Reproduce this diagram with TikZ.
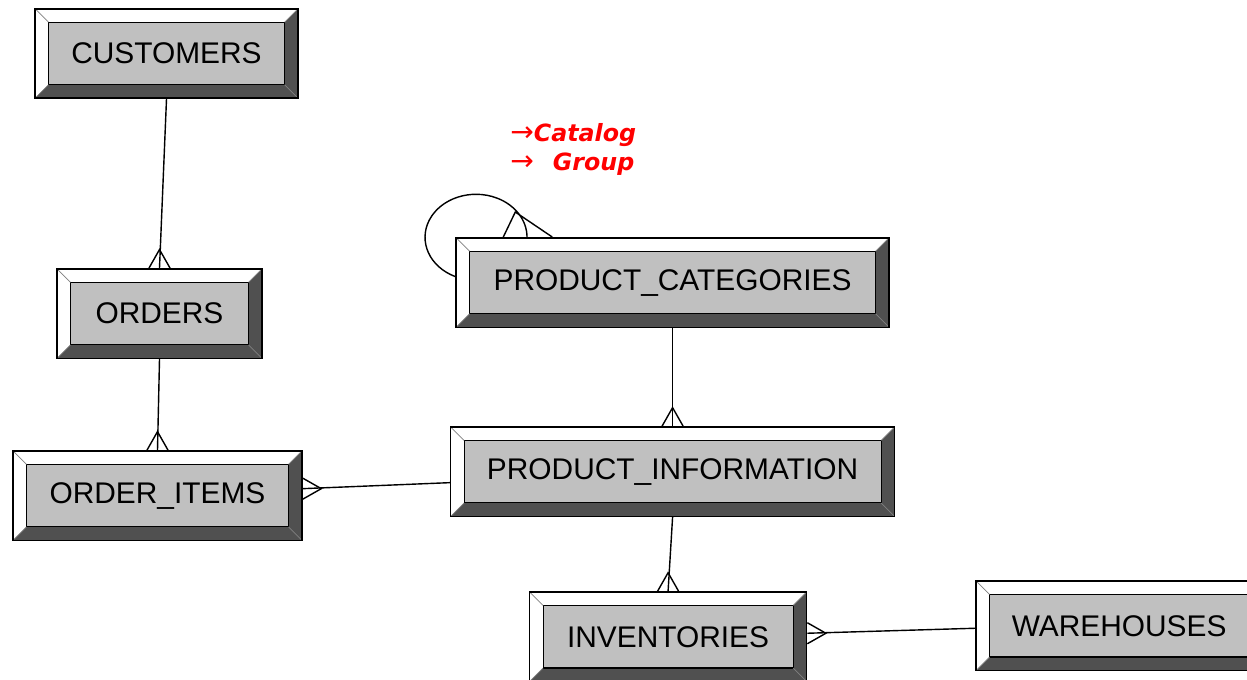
\documentclass[tikz,border=0pt]{standalone}
\usepackage{fontspec}
\setmainfont{Liberation Sans}
\newfontfamily\notefont{DejaVu Sans}
\usepackage{xcolor}
\usetikzlibrary{positioning, calc}

\definecolor{bevface}{HTML}{C0C0C0}
\definecolor{bevdark}{HTML}{505050}
\definecolor{notered}{HTML}{FF0000}
\def\bev{0.27cm}
\newcommand{\notearrow}{{\upshape\mdseries\fontsize{16}{16.5}\selectfont →}}

\begin{document}
\begin{tikzpicture}[
        entity/.style={rectangle, draw=black, line width=0.9pt, fill=white, inner sep=0pt,
                minimum height=1.79cm, font=\fontsize{17}{20}\selectfont,
                path picture={
                        \fill[bevdark] (path picture bounding box.south west) -- (path picture bounding box.south east)
                            -- (path picture bounding box.north east) -- ([shift={(-\bev,-\bev)}]path picture bounding box.north east)
                            -- ([shift={(-\bev,\bev)}]path picture bounding box.south east)
                            -- ([shift={(\bev,\bev)}]path picture bounding box.south west) -- cycle;
                        \filldraw[fill=bevface, draw=black, line width=0.6pt]
                            ([shift={(\bev,\bev)}]path picture bounding box.south west) rectangle
                            ([shift={(-\bev,-\bev)}]path picture bounding box.north east);
                        \draw[gray, line width=0.4pt]
                            (path picture bounding box.north west) -- ++(\bev,-\bev)
                            (path picture bounding box.north east) -- ++(-\bev,-\bev)
                            (path picture bounding box.south west) -- ++(\bev,\bev)
                            (path picture bounding box.south east) -- ++(-\bev,\bev);
                    }},
        link/.style={-, line width=0.8pt, black},
        crowfoot/.pic={\draw[link] (-0.21cm,0) -- (0,0.37cm) -- (0.21cm,0);},
        note/.style={font=\notefont\bfseries\itshape\fontsize{13.5}{16.5}\selectfont, text=notered,
                align=left, inner sep=0pt}, ]

        \useasboundingbox (0,0) rectangle (24.94,-13.6);
        \clip (0,0) rectangle (24.94,-13.6);

        % === ORDER SIDE ===
        \node[entity, minimum width=5.26cm] (cust) at (3.33,-1.07) {CUSTOMERS};
        \node[entity, minimum width=4.1cm, below=3.38cm of cust, xshift=-0.14cm] (orders) {ORDERS};
        \node[entity, minimum width=5.78cm, below=1.82cm of orders, xshift=-0.04cm] (oitems) {ORDER\_ITEMS};

        % === PRODUCT SIDE ===
        \node[entity, minimum width=8.88cm, right=2.94cm of oitems, yshift=0.48cm] (pinfo) {PRODUCT\_INFORMATION};
        \node[entity, minimum width=8.66cm, above=1.96cm of pinfo] (pcat) {PRODUCT\_CATEGORIES};
        \node[entity, minimum width=5.54cm, below=1.48cm of pinfo, xshift=-0.09cm] (inv) {INVENTORIES};
        \node[entity, minimum width=5.72cm, right=3.36cm of inv, yshift=0.22cm] (ware) {WAREHOUSES};

        % note
        \node[note, anchor=north west] (grpnote) at (10.2,-2.47)
            {\notearrow Catalog\\\notearrow\hspace{0.38cm}Group};

        % === RELATIONSHIPS ===
        \draw[link] (cust.south) -- (orders.north);
        \pic at (orders.north) {crowfoot};

        \draw[link] (orders.south) -- (oitems.north);
        \pic at (oitems.north) {crowfoot};

        \draw[link] ([yshift=-0.22cm]pinfo.west) -- ([yshift=0.14cm]oitems.east);
        \pic[rotate=-90] at ([yshift=0.14cm]oitems.east) {crowfoot};

        \draw[link] (pcat.south) -- (pinfo.north);
        \pic at (pinfo.north) {crowfoot};

        \draw[link] (pinfo.south) -- (inv.north);
        \pic at (inv.north) {crowfoot};

        \draw[link] ([yshift=-0.05cm]ware.west) -- ([yshift=0.07cm]inv.east);
        \pic[rotate=-90] at ([yshift=0.07cm]inv.east) {crowfoot};

        % self loop on categories
        \draw[link] ([yshift=0.12cm]pcat.west) arc[start angle=246, end angle=0, x radius=1.02cm, y radius=0.86cm];
        \draw[link] ([xshift=0.96cm]pcat.north west) -- ([xshift=1.2cm, yshift=0.5cm]pcat.north west)
            -- ([xshift=1.94cm]pcat.north west);
    \end{tikzpicture}
\end{document}
